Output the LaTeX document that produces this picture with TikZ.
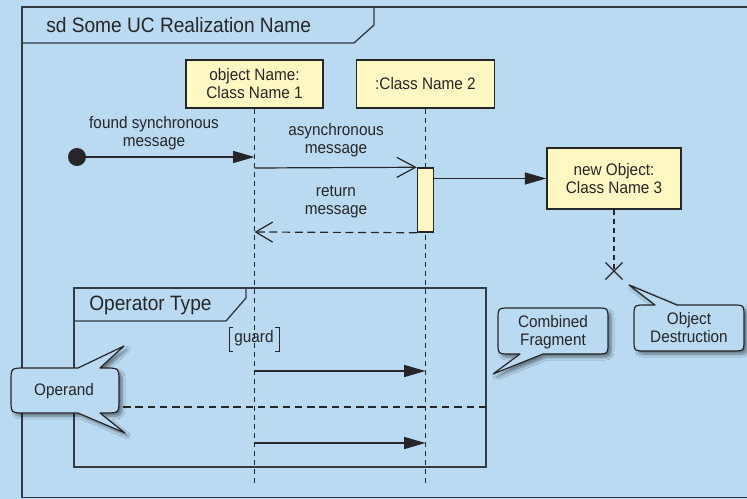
\documentclass[tikz,border=0pt]{standalone}
\usepackage{fontspec}
\setmainfont{Liberation Sans}[FakeStretch=0.92]
\usetikzlibrary{arrows.meta,shapes.misc,shadows.blur}
\definecolor{bgblue}{RGB}{185,218,241}
\definecolor{lifeyellow}{RGB}{255,248,194}
\definecolor{ink}{RGB}{38,38,40}
\definecolor{frameline}{RGB}{52,58,66}
\newcommand\lblfont{\fontsize{12.5}{13.5}\selectfont}
\newcommand\bigfont{\fontsize{15.6}{18}\selectfont}
\begin{document}
\begin{tikzpicture}[x=0.75pt,y=-0.75pt,
  objbox/.style={draw=ink, fill=lifeyellow, line width=1.1pt, inner sep=0pt,
    align=center, text=ink, font=\lblfont},
  lifeline/.style={draw=ink, line width=0.9pt, dash pattern=on 3.75pt off 3pt},
  framebox/.style={draw=frameline, line width=1pt},
  msg/.style={draw=ink, line width=0.9pt, -{Triangle[length=16pt,width=9pt]}},
  asyncmsg/.style={draw=ink, line width=0.9pt, -{Straight Barb[length=14pt,width=15pt]}},
  replymsg/.style={draw=ink, line width=0.9pt, dash pattern=on 6pt off 3.5pt,
    -{Straight Barb[length=12.75pt,width=15pt]}},
  lbl/.style={text=ink, align=center, font=\lblfont, inner sep=0pt},
  callout/.style={draw=ink, fill=bgblue, line width=0.9pt, line join=round,
    blur shadow={shadow xshift=2.5pt, shadow yshift=-2.5pt, shadow opacity=45, shadow blur steps=6}}
]
\useasboundingbox (0,0) rectangle (747,499);
\clip (0,0) rectangle (747,499);
\fill[bgblue] (0,0) rectangle (747,499);

% outer sequence diagram frame and its name tab
\draw[framebox] (760,7) -- (22,7) -- (22,497.5) -- (760,497.5);
\draw[framebox] (22,43) -- (354,43) -- (374,25) -- (374,7);
\node[lbl, font=\bigfont, anchor=west] (title) at (46,25) {sd Some UC Realization Name};

% combined fragment with operator tab and operand separator
\draw[framebox] (74,288) rectangle (486,467);
\draw[framebox] (74,321) -- (226,321) -- (246,298) -- (246,288);
\node[lbl, font=\bigfont, anchor=west] (optype) at (89,305) {Operator Type};
\draw[draw=ink, line width=0.9pt, dash pattern=on 5.6pt off 3.6pt] (74,407) -- (486,407);

% lifeline heads
\node[objbox, minimum width=102.75pt, minimum height=36pt] (b1) at (254.5,84) {object Name:\\Class Name 1};
\node[objbox, minimum width=103.5pt, minimum height=36pt] (b2) at (425.5,84) {:Class Name 2};
\node[objbox, minimum width=100.5pt, minimum height=45.75pt] (b3) at (614,178.5) {new Object:\\Class Name 3};

% lifelines
\coordinate (l1end) at (254.5,484);
\coordinate (l2end) at (425.5,484);
\node[cross out, draw=ink, line width=0.9pt, minimum size=12pt, inner sep=0pt] (dx) at (614,271) {};
\draw[lifeline] (b1.south) -- (l1end);
\draw[lifeline] (b2.south) -- (l2end);
\draw[lifeline] (b3.south) -- (dx.center);

% activation bar
\node[objbox, minimum width=12pt, minimum height=48pt] (act) at (425.5,200) {};

% messages
\node[circle, fill=ink, inner sep=0pt, minimum size=13.5pt] (found) at (77,157) {};
\coordinate (m0) at (254.5,157);
\coordinate (a1s) at (254.5,168);
\coordinate (r1e) at (254.5,232);
\coordinate (f1s) at (254.5,371);
\coordinate (f1e) at (425.5,371);
\coordinate (f2s) at (254.5,443);
\coordinate (f2e) at (425.5,443);
\draw[msg] (found.center) -- (m0);
\draw[asyncmsg] (a1s) -- (act.north west);
\draw[replymsg] (act.south west) -- (r1e);
\draw[msg] (act.east |- b3.west) -- (b3.west);
\draw[msg] (f1s) -- (f1e);
\draw[msg] (f2s) -- (f2e);

% message labels
\node[lbl] (lfound) at (154,133) {found synchronous\\message};
\node[lbl] (lasync) at (336,140) {asynchronous\\message};
\node[lbl] (lreply) at (336,202) {return\\message};

% guard condition
\node[lbl] (guard) at (254,338) {guard};
\draw[draw=ink, line width=0.7pt] (233,327) -- (229,327) -- (229,351) -- (233,351);
\draw[draw=ink, line width=0.7pt] (275,327) -- (279,327) -- (279,351) -- (275,351);

% callouts
\path[callout] (510,308) -- (596,308) .. controls (608,308) .. (608,320) -- (608,342)
  .. controls (608,354) .. (596,354) -- (543,354) -- (493,374) -- (520,354) -- (510,354)
  .. controls (498,354) .. (498,342) -- (498,320) .. controls (498,308) .. (510,308) -- cycle;
\node[lbl] (cftext) at (553,332) {Combined\\Fragment};

\path[callout] (646,305) -- (655,305) -- (629,285) -- (677,305) -- (732,305)
  .. controls (744,305) .. (744,317) -- (744,339) .. controls (744,351) .. (732,351)
  -- (646,351) .. controls (634,351) .. (634,339) -- (634,317) .. controls (634,305) .. (646,305) -- cycle;
\node[lbl] (odtext) at (689,328) {Object\\Destruction};

\path[callout] (25,368) -- (78,368) -- (124,346) -- (100,368) -- (105,368)
  .. controls (119,368) .. (119,382) -- (119,399) .. controls (119,413) .. (105,413)
  -- (100,413) -- (125,433) -- (78,413) -- (25,413) .. controls (11,413) .. (11,399)
  -- (11,382) .. controls (11,368) .. (25,368) -- cycle;
\node[lbl] (optext) at (64,391) {Operand};
\end{tikzpicture}
\end{document}
